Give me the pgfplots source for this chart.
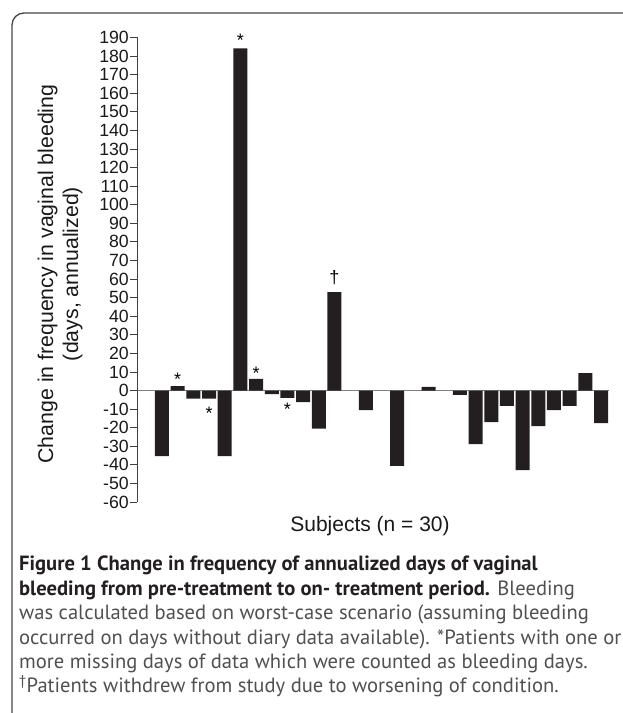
\documentclass[border=0pt]{standalone}
\usepackage{fontspec}
\setmainfont{Liberation Sans}
\newfontfamily\capfont{PT Sans}
\usepackage{pgfplots}
\pgfplotsset{compat=1.18}
\definecolor{barc}{RGB}{35,31,32}
\definecolor{framec}{RGB}{70,70,70}
\definecolor{capgray}{RGB}{80,80,80}
\begin{document}
\begin{tikzpicture}[x=1pt,y=1pt]
\path[use as bounding box] (0,0) rectangle (622,713);
% frame
\draw[framec, line width=1.3pt, rounded corners=12pt] (12,0) -- (12,700) -- (630,700);
\begin{axis}[
  at={(137pt,211pt)}, anchor=south west,
  x=15.68pt, y=1.858pt,
  xmin=-0.594, xmax=29.51, ymin=-60, ymax=190,
  axis lines=left, axis line style={draw=none},
  clip=false,
  xtick=\empty,
  ytick={-60,-50,...,190},
  yticklabels={-60,-50,-40,-30,-20,-10,0,10,20,30,40,50,60,70,80,90,100,110,120,130,140,150,160,170,180,190},
  tick align=outside, major tick length=7pt,
  tick style={black!75, line width=0.8pt},
  yticklabel style={font=\fontsize{17.7}{18}\selectfont, text=black!90, inner xsep=1pt},
  ybar, bar width=14pt,
]
\draw[black!50, line width=1.4pt] (axis cs:-0.594,0) -- (axis cs:29.51,0);
\addplot[fill=barc, draw=none] coordinates {
(1,-35.3) (2,2.4) (3,-4.4) (4,-4.4) (5,-35.3) (6,184.2) (7,6.2) (8,-1.9) (9,-3.9) (10,-6.2)
(11,-20.5) (12,53) (14,-10.5) (16,-40.6) (18,1.9) (20,-2.4) (21,-28.8) (22,-17) (23,-8.3)
(24,-42.8) (25,-19.1) (26,-10.5) (27,-8.3) (28,9.4) (29,-17.5)
};
\draw[black!75, line width=0.9pt] (axis cs:-0.594,-60) -- (axis cs:-0.594,190);
\node[font=\fontsize{18}{18}\selectfont, yshift=-3.5pt] at (axis cs:2,8.1) {*};
\node[font=\fontsize{18}{18}\selectfont, yshift=-3.5pt] at (axis cs:4,-10.2) {*};
\node[font=\fontsize{18}{18}\selectfont, yshift=-3.5pt] at (axis cs:6,190.5) {*};
\node[font=\fontsize{18}{18}\selectfont, yshift=-3.5pt] at (axis cs:7,11.3) {*};
\node[font=\fontsize{18}{18}\selectfont, yshift=-3.5pt] at (axis cs:9,-8.1) {*};
\node[font=\fontsize{18}{18}\selectfont] at (axis cs:12,60.8) {†};
\end{axis}
% y label
\node[rotate=90, align=center, font=\fontsize{21.3}{25}\selectfont, text=black!90] at (60,439) {Change in frequency in vaginal bleeding\\(days, annualized)};
% x label
\node[anchor=base, font=\fontsize{21}{21}\selectfont, text=black!90] at (370,181) {Subjects (n = 30)};
% caption
\begin{scope}[every node/.style={anchor=base west, inner sep=0pt, font=\capfont\fontsize{20.6}{24}\selectfont, text=capgray}]
\node at (19,142) {\textcolor{barc}{\bfseries Figure 1 Change in frequency of annualized days of vaginal}};
\node at (19,117.6) {\textcolor{barc}{\bfseries bleeding from pre-treatment to on- treatment period.} Bleeding};
\node at (19,93.2) {was calculated based on worst-case scenario (assuming bleeding};
\node at (19,68.8) {occurred on days without diary data available). *Patients with one or};
\node at (19,44.4) {more missing days of data which were counted as bleeding days.};
\node at (19,20) {\textsuperscript{†}Patients withdrew from study due to worsening of condition.};
\end{scope}
\end{tikzpicture}
\end{document}
